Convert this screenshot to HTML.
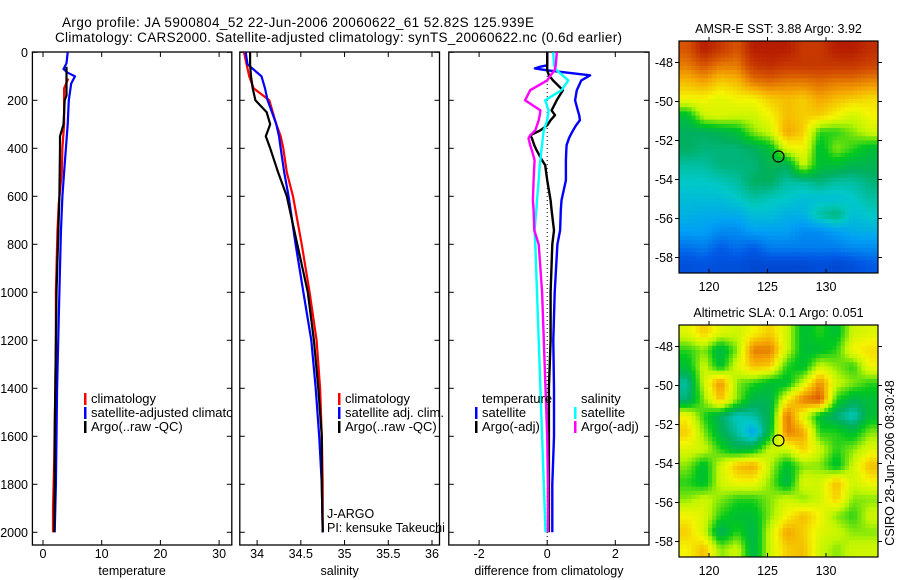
<!DOCTYPE html>
<html><head><meta charset="utf-8"><style>
html,body{margin:0;padding:0;background:#fff;}
svg{display:block;font-family:"Liberation Sans",sans-serif;}
</style></head><body>
<svg id="fig" width="900" height="580" viewBox="0 0 900 580" xmlns="http://www.w3.org/2000/svg">
<defs><clipPath id="clip1"><rect x="32" y="52" width="199.5" height="493"/></clipPath></defs>
<text x="62" y="27" font-size="13.5" textLength="472">Argo profile: JA 5900804_52 22-Jun-2006 20060622_61 52.82S 125.939E</text>
<text x="55" y="42" font-size="13.5" textLength="567">Climatology: CARS2000. Satellite-adjusted climatology: synTS_20060622.nc (0.6d earlier)</text>
<g id="g"></g>
</svg>
<script>
// ---- data ----
const depthT = [0,46,70,85,100,130,200,300,400,500,600,750,1000,1100,1400,1800,2000];
const tempSat = [4.2,4.0,3.5,4.2,5.45,4.8,4.4,4.2,3.9,3.6,3.3,3.05,2.8,2.7,2.4,2.2,2.0];
const depthTc = [110,150,300,400,500,630,750,1000,1200,1400,1700,1900,2000];
const tempClim = [4.3,3.6,3.6,3.3,3.2,2.7,2.45,2.2,2.2,2.1,1.9,1.7,1.7];
const depthTa = [60,100,180,200,300,350,400,600,750,1000,1200,1400,1600,1800,2000];
const tempArgo = [4.0,4.0,4.0,3.7,3.5,2.9,2.9,2.8,2.6,2.3,2.2,2.1,2.0,2.0,1.9];

const depthS = [0,50,100,150,200,250,300,350,400,500,600,800,1000,1200,1400,1600,1800,2000];
const salClim = [33.85,33.88,33.91,33.96,34.14,34.18,34.22,34.27,34.3,34.34,34.41,34.51,34.6,34.68,34.72,34.74,34.75,34.75];
const salSat = [33.87,33.89,34.05,34.09,34.12,34.17,34.22,34.25,34.27,34.31,34.36,34.44,34.53,34.62,34.67,34.71,34.74,34.75];
const salArgo = [33.92,33.92,33.93,33.95,33.98,34.11,34.15,34.1,34.15,34.24,34.34,34.46,34.58,34.65,34.7,34.74,34.74,34.75];

const depthD = [0,8,54,60,67,75,96,117,158,200,242,262,283,304,325,346,358,387,408,450,471,533,617,658,742,800,1000,1200,1400,1600,1800,2000];
const diffTSat = [0,0,0,-0.2,-0.36,0,1.26,1.0,0.87,0.82,0.9,0.94,0.96,0.85,0.76,0.68,0.64,0.57,0.56,0.55,0.55,0.55,0.42,0.4,0.38,0.3,0.22,0.18,0.2,0.2,0.15,0.15];
const diffTArgo = [0,0,0,0,0,0,0.05,0.17,0.46,0.28,0.13,0.23,0.1,0,-0.2,-0.5,-0.45,-0.38,-0.31,-0.15,-0.06,0,0.1,0.13,0.2,0.15,0.1,0.1,0.05,0.05,0.05,0.05];
const diffSSat = [0.18,0.18,0.2,0.22,0.25,0.28,0.45,0.62,0.42,-0.06,0.04,0.02,0,-0.05,-0.1,-0.12,-0.13,-0.15,-0.17,-0.2,-0.22,-0.25,-0.3,-0.32,-0.37,-0.35,-0.3,-0.25,-0.2,-0.15,-0.1,-0.05];
const diffSArgo = [0.28,0.28,0.25,0.24,0.23,0.22,0.1,0,-0.5,-0.65,-0.2,-0.22,-0.25,-0.3,-0.35,-0.5,-0.55,-0.5,-0.45,-0.37,-0.38,-0.4,-0.42,-0.4,-0.38,-0.25,-0.15,-0.1,-0.05,0,0.02,0.02];

const depthTicks = [0,200,400,600,800,1000,1200,1400,1600,1800,2000];
const tempTicks = [0,10,20,30];
const salTicks = [34,34.5,35,35.5,36];
const diffTicks = [-2,0,2];
const lonTicks = [120,125,130];
const latTicks = [-48,-50,-52,-54,-56,-58];

const sstGrid = [
[.85,.95,.9,.85,.95,.95,.95,.9,.9,.95,.95,.92],
[.8,.85,.8,.8,.9,.92,.9,.9,.9,.9,.9,.88],
[.72,.75,.7,.72,.8,.82,.8,.8,.82,.8,.8,.78],
[.65,.65,.62,.65,.65,.7,.72,.7,.75,.72,.7,.68],
[.45,.6,.62,.6,.6,.65,.72,.7,.7,.65,.6,.65],
[.4,.4,.42,.45,.55,.6,.75,.7,.5,.5,.55,.6],
[.4,.38,.38,.38,.4,.45,.62,.65,.45,.55,.5,.45],
[.35,.35,.38,.38,.38,.42,.4,.6,.45,.45,.42,.42],
[.32,.32,.33,.35,.4,.4,.35,.35,.38,.35,.35,.38],
[.3,.3,.3,.32,.35,.33,.32,.3,.3,.3,.32,.35],
[.28,.27,.27,.27,.3,.3,.28,.28,.35,.38,.3,.32],
[.25,.25,.22,.22,.25,.25,.25,.22,.22,.25,.27,.28],
[.18,.2,.15,.18,.15,.2,.2,.2,.2,.2,.22,.22],
[.12,.13,.12,.12,.1,.1,.1,.1,.12,.1,.12,.15]];
const slaGrid = [
[.62,.7,.62,.6,.65,.7,.6,.45,.5,.45,.6,.62],
[.5,.55,.42,.55,.8,.8,.6,.45,.45,.5,.65,.68],
[.45,.6,.45,.62,.72,.7,.5,.45,.6,.55,.5,.65],
[.35,.6,.78,.55,.5,.45,.45,.6,.78,.6,.55,.5],
[.38,.55,.72,.55,.42,.42,.65,.8,.85,.5,.42,.45],
[.65,.5,.4,.32,.35,.42,.82,.62,.45,.38,.32,.45],
[.7,.55,.42,.35,.25,.45,.8,.75,.5,.5,.45,.55],
[.62,.6,.5,.42,.45,.6,.6,.7,.6,.5,.55,.62],
[.55,.45,.6,.72,.75,.58,.45,.55,.55,.45,.6,.72],
[.5,.45,.6,.65,.65,.55,.42,.62,.6,.72,.6,.65],
[.55,.6,.55,.5,.5,.55,.6,.55,.6,.7,.55,.55],
[.65,.62,.5,.45,.45,.55,.65,.72,.65,.55,.5,.6],
[.7,.6,.4,.5,.42,.6,.75,.7,.62,.6,.55,.55],
[.65,.72,.55,.6,.42,.6,.7,.72,.6,.55,.6,.6]];
const argoLon = 125.939, argoLat = -52.82;

// ---- drawing ----
const NS='http://www.w3.org/2000/svg';
const G=document.getElementById('g');
function mk(tag,attrs,parent){const e=document.createElementNS(NS,tag);for(const k in attrs)e.setAttribute(k,attrs[k]);(parent||G).appendChild(e);return e;}
function txt(x,y,s,size,anchor,parent){const e=mk('text',{x:x,y:y,'font-size':size||12,'text-anchor':anchor||'start'},parent);e.textContent=s;return e;}

const yTop=52, yBot=545;
const yD=d=>52.3+d*(532.3-52.3)/2000;
const xT=v=>43+v*(219.1-43)/30;
const xS=v=>257.1+(v-34)*(432-257.1)/2;
const xDf=v=>547.2+v*(615.3-479.1)/4;
const panels=[{x0:32.4,x1:231.8,ticks:tempTicks,f:xT,lab:'temperature',name:'temperature-panel'},
{x0:239.8,x1:439.5,ticks:salTicks,f:xS,lab:'salinity',name:'salinity-panel'},
{x0:448.8,x1:649,ticks:diffTicks,f:xDf,lab:'difference from climatology',name:'difference-panel'}];
panels.forEach((p,i)=>{
  const g=mk('g',{});
  
  
  const r=mk('rect',{x:p.x0,y:yTop,width:p.x1-p.x0,height:yBot-yTop,fill:'none',stroke:'#000','stroke-width':1.3},g);
  
  
  p.ticks.forEach(t=>{const x=p.f(t);
    mk('line',{x1:x,y1:yBot,x2:x,y2:yBot-5,stroke:'#000'},g);
    mk('line',{x1:x,y1:yTop,x2:x,y2:yTop+5,stroke:'#000'},g);
    const l=txt(x,558,String(t),12.5,'middle',g);
    
    
  });
  depthTicks.forEach(d=>{const y=yD(d);
    mk('line',{x1:p.x0,y1:y,x2:p.x0+5,y2:y,stroke:'#000'},g);
    mk('line',{x1:p.x1,y1:y,x2:p.x1-5,y2:y,stroke:'#000'},g);
    if(i===0){const l=txt(28,y+4.5,String(d),12.5,'end',g);
      
      }
  });
  const xl=txt((p.x0+p.x1)/2,575,p.lab,12.5,'middle',g);
  
  
});
function line(xs,ds,fx,color,name,w){
  const pts=xs.map((v,i)=>fx(v).toFixed(1)+','+yD(ds[i]).toFixed(1)).join(' ');
  const e=mk('polyline',{points:pts,fill:'none',stroke:color,'stroke-width':w||2.2,'stroke-linejoin':'round'});
  
  
}
line(tempClim,depthTc,xT,'#f00','temp-climatology-line');
line(tempSat,depthT,xT,'#00f','temp-satellite-line');
line(tempArgo,depthTa,xT,'#000','temp-argo-line');
line(salClim,depthS,xS,'#f00','sal-climatology-line');
line(salSat,depthS,xS,'#00f','sal-satellite-line');
line(salArgo,depthS,xS,'#000','sal-argo-line');
const z=mk('line',{x1:xDf(0),y1:yTop,x2:xDf(0),y2:yBot,stroke:'#000','stroke-dasharray':'1,3'});


line(diffTSat,depthD,xDf,'#00f','diff-temp-satellite-line',2.4);
line(diffTArgo,depthD,xDf,'#000','diff-temp-argo-line',2.4);
line(diffSSat,depthD,xDf,'#0ff','diff-sal-satellite-line',2.4);
line(diffSArgo,depthD,xDf,'#f0f','diff-sal-argo-line',2.4);

function legend(x,y,color,label,name,clip){
  const g=mk('g',{});
  
  
  if(clip) g.setAttribute('clip-path','url(#clip1)');
  if(color) mk('rect',{x:x,y:y-10,width:2.5,height:12,fill:color},g);
  txt(x+7,y,label,13,'start',g);
}
legend(84,403,'#f00','climatology','legend-climatology',true);
legend(84,417,'#00f','satellite-adjusted climatology','legend-satellite-adjusted',true);
legend(84,431,'#000','Argo(..raw -QC)','legend-argo',true);
legend(338,403,'#f00','climatology','legend-sal-climatology');
legend(338,417,'#00f','satellite adj. clim.','legend-sal-satellite');
legend(338,431,'#000','Argo(..raw -QC)','legend-sal-argo');
legend(475,403,null,'temperature','legend-temperature-header');
legend(475,417,'#00f','satellite','legend-temp-satellite');
legend(475,431,'#000','Argo(-adj)','legend-temp-argo');
legend(574,403,null,'salinity','legend-salinity-header');
legend(574,417,'#0ff','satellite','legend-sal-sat-diff');
legend(574,431,'#f0f','Argo(-adj)','legend-sal-argo-diff');
const ja=txt(327,518,'J-ARGO',12.5);


const pi=txt(327,532,'PI: kensuke Takeuchi',12.5);



// colormap
const stops=[[0,[0,40,170]],[0.15,[0,90,230]],[0.25,[0,160,245]],[0.32,[0,200,200]],[0.4,[0,175,95]],[0.48,[0,200,30]],[0.58,[190,245,0]],[0.65,[245,245,0]],[0.75,[245,165,0]],[0.85,[215,85,0]],[1,[165,0,0]]];
function cmap(v){for(let i=1;i<stops.length;i++){if(v<=stops[i][0]){const a=stops[i-1],b=stops[i],t=(v-a[0])/(b[0]-a[0]);
  return 'rgb('+a[1].map((c,k)=>Math.round(c+(b[1][k]-c)*t)).join(',')+')';}}return 'rgb(165,0,0)';}
function sample(grid,fr,fc){
  const nr=grid.length,nc=grid[0].length;
  fr=Math.max(0,Math.min(nr-1,fr));fc=Math.max(0,Math.min(nc-1,fc));
  const r0=Math.floor(fr),c0=Math.floor(fc),r1=Math.min(nr-1,r0+1),c1=Math.min(nc-1,c0+1),tr=fr-r0,tc=fc-c0;
  return (grid[r0][c0]*(1-tc)+grid[r0][c1]*tc)*(1-tr)+(grid[r1][c0]*(1-tc)+grid[r1][c1]*tc)*tr;
}
function map(grid,top,bot,title,name){
  const x0=679,x1=878,SUB=4;
  const g=mk('g',{});
  
  
  const lon=v=>709+(v-120)*(826-709)/10;
  const latY=v=>top+21.5+(-48-v)*(bot-top-37)/10;
  const nr=grid.length,nc=grid[0].length,NR=nr*SUB,NC=nc*SUB,cw=(x1-x0)/NC,ch=(bot-top)/NR;
  for(let r=0;r<NR;r++)for(let c=0;c<NC;c++){
    const v=sample(grid,(r+0.5)/SUB-0.5,(c+0.5)/SUB-0.5);
    const cell=mk('rect',{x:(x0+c*cw).toFixed(2),y:(top+r*ch).toFixed(2),width:(cw+0.5).toFixed(2),height:(ch+0.5).toFixed(2),fill:cmap(v)},g);
    
    
  }
  mk('rect',{x:x0,y:top,width:x1-x0,height:bot-top,fill:'none',stroke:'#000','stroke-width':1.2},g);
  lonTicks.forEach(t=>{const x=lon(t);mk('line',{x1:x,y1:bot,x2:x,y2:bot-4,stroke:'#000'},g);mk('line',{x1:x,y1:top,x2:x,y2:top-4,stroke:'#000'},g);
    txt(x,bot+18,String(t),12.5,'middle',g);});
  latTicks.forEach(t=>{const y=latY(t);mk('line',{x1:x0,y1:y,x2:x0-4,y2:y,stroke:'#000'},g);mk('line',{x1:x1,y1:y,x2:x1+4,y2:y,stroke:'#000'},g);
    txt(673,y+4.5,String(t),12.5,'end',g);});
  const c=mk('circle',{cx:lon(argoLon),cy:latY(argoLat),r:5.5,fill:'none',stroke:'#000','stroke-width':1.2},g);
  
  
  const t=txt((x0+x1)/2,top-8,title,12.5,'middle',g);
  
  
}
map(sstGrid,41,273,'AMSR-E SST: 3.88 Argo: 3.92','sst-map');
map(slaGrid,325,557,'Altimetric SLA: 0.1 Argo: 0.051','sla-map');
const cs=txt(0,0,'CSIRO 28-Jun-2006 08:30:48',12.5,'middle');
cs.setAttribute('transform','translate(894,463) rotate(-90)');


</script>
</body></html>
